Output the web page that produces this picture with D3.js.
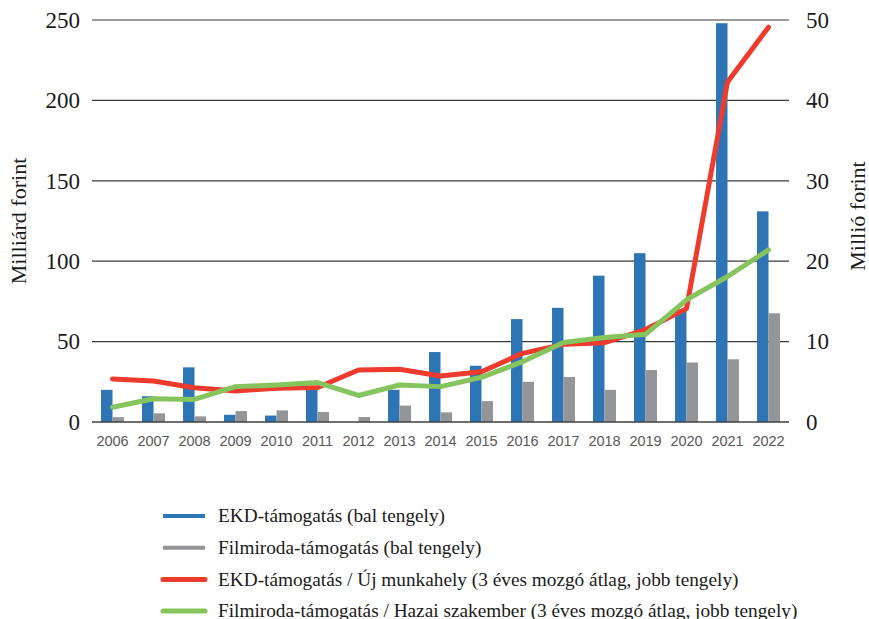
<!DOCTYPE html>
<html><head><meta charset="utf-8">
<script src="https://cdn.jsdelivr.net/npm/d3@7"></script>
<style>body{margin:0;background:#fff}svg{display:block}
.serif{font-family:"Liberation Serif","DejaVu Serif",serif}
.sans{font-family:"Liberation Sans","DejaVu Sans",sans-serif}
</style>
</head><body><svg id="c" width="869" height="619"></svg>
<script>
const years = ["2006","2007","2008","2009","2010","2011","2012","2013","2014","2015","2016","2017","2018","2019","2020","2021","2022"];
const ekd = [20,16,34,4.5,4,22,0,20,43.5,35,64,71,91,105,70,248,131];
const filmiroda = [3,5.4,3.5,6.8,7.2,6.2,3.1,10.2,6,13,25,28,20,32.3,37,39,67.6];
const ekdPerJob = [5.35,5.1,4.27,3.86,4.2,4.3,6.47,6.55,5.72,6.26,8.54,9.66,9.86,11.5,14.1,42.3,49.1];
const filmPerExpert = [1.83,2.9,2.8,4.4,4.6,4.9,3.3,4.6,4.4,5.56,7.5,9.9,10.5,10.9,15.2,18.1,21.4];
const leftTicks = [0,50,100,150,200,250];
const rightTicks = [0,10,20,30,40,50];
const legendLabels = [
  "EKD-támogatás (bal tengely)",
  "Filmiroda-támogatás (bal tengely)",
  "EKD-támogatás / Új munkahely (3 éves mozgó átlag, jobb tengely)",
  "Filmiroda-támogatás / Hazai szakember (3 éves mozgó átlag, jobb tengely)"
];
const colors = ["#2E75B6","#949598","#EE3B2E","#86C55E"];

const svg = d3.select("#c");
const L = 92, R = 789, T = 20, B = 422;
const x = d3.scaleBand().domain(years).range([L, R]).paddingInner(0.44).paddingOuter(0.22);
const xs = d3.scaleBand().domain(["ekd","film"]).range([0, x.bandwidth()]);
const yL = d3.scaleLinear().domain([0,250]).range([B, T]);
const yR = d3.scaleLinear().domain([0,50]).range([B, T]);

// gridlines
svg.append("g").selectAll("line").data(leftTicks.filter(d=>d>0)).join("line")
  .attr("x1", L).attr("x2", R).attr("y1", d=>yL(d)).attr("y2", d=>yL(d))
  .attr("stroke", "#3a3a3a").attr("stroke-width", 1.2);

// left axis
const gl = svg.append("g").attr("transform", `translate(${L},0)`)
  .call(d3.axisLeft(yL).tickValues(leftTicks).tickSize(0).tickPadding(12));
gl.select(".domain").remove();
gl.attr("font-family", null).attr("font-size", null);
gl.selectAll("text").attr("class","serif").style("font-size", "23px").attr("fill", "#1a1a1a");

// right axis
const gr = svg.append("g").attr("transform", `translate(${R},0)`)
  .call(d3.axisRight(yR).tickValues(rightTicks).tickSize(0).tickPadding(17));
gr.select(".domain").remove();
gr.attr("font-family", null).attr("font-size", null);
gr.selectAll("text").attr("class","serif").style("font-size", "23px").attr("fill", "#1a1a1a");

// bars
const g = svg.append("g");
years.forEach((yr, i) => {
  g.append("rect").attr("x", x(yr)+xs("ekd")).attr("width", xs.bandwidth())
    .attr("y", yL(ekd[i])).attr("height", B - yL(ekd[i])).attr("fill", colors[0]);
  g.append("rect").attr("x", x(yr)+xs("film")).attr("width", xs.bandwidth())
    .attr("y", yL(filmiroda[i])).attr("height", B - yL(filmiroda[i])).attr("fill", colors[1]);
});

// baseline
svg.append("line").attr("x1", L).attr("x2", R).attr("y1", B).attr("y2", B)
  .attr("stroke", "#404040").attr("stroke-width", 1.5);

// x axis
const gx = svg.append("g").attr("transform", `translate(0,${B})`)
  .call(d3.axisBottom(x).tickSize(0).tickPadding(14));
gx.select(".domain").remove();
gx.attr("font-family", null).attr("font-size", null);
gx.selectAll("text").attr("class","sans").style("font-size", "14.5px").attr("fill", "#595959");

// lines
const cx = d => x(d) + x.bandwidth()/2;
const line = d3.line().x((d,i)=>cx(years[i])).y(d=>yR(d));
svg.append("path").datum(ekdPerJob).attr("d", line).attr("fill","none")
  .attr("stroke", colors[2]).attr("stroke-width", 5).attr("stroke-linejoin","round").attr("stroke-linecap","round");
svg.append("path").datum(filmPerExpert).attr("d", line).attr("fill","none")
  .attr("stroke", colors[3]).attr("stroke-width", 5).attr("stroke-linejoin","round").attr("stroke-linecap","round");

// axis titles
svg.append("text").attr("class","serif").attr("transform", "translate(26,221) rotate(-90)").attr("text-anchor","middle")
  .style("font-size", "22px").attr("fill","#1a1a1a").text("Milliárd forint");
svg.append("text").attr("class","serif").attr("transform", "translate(865,216) rotate(-90)").attr("text-anchor","middle")
  .style("font-size", "22px").attr("fill","#1a1a1a").text("Millió forint");

// legend
const lg = svg.append("g");
legendLabels.forEach((t, i) => {
  const yy = 516 + i*31.7;
  lg.append("line").attr("x1", 163).attr("x2", 205).attr("y1", yy).attr("y2", yy)
    .attr("stroke", colors[i]).attr("stroke-width", i < 2 ? 4 : 5).attr("stroke-linecap", i<2 ? "butt" : "round");
  lg.append("text").attr("class","serif").attr("x", 218).attr("y", yy).attr("dy", "0.33em")
    .style("font-size", "19.3px").attr("fill", "#1a1a1a").text(t);
});
</script></body></html>
